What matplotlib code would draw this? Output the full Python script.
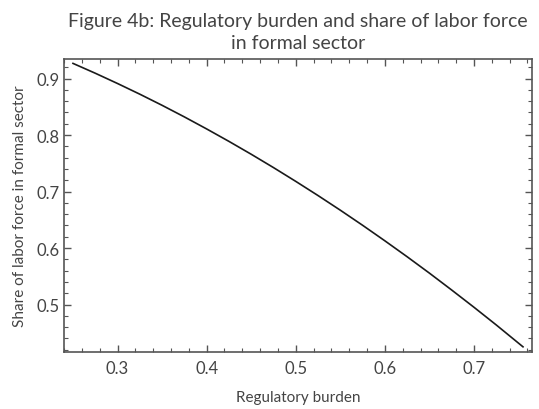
import matplotlib.pyplot as plt
from matplotlib.ticker import MultipleLocator

plt.rcParams['font.family'] = ['Lato', 'DejaVu Sans']

burden = [0.25, 0.275, 0.30, 0.325, 0.35, 0.375, 0.40, 0.425, 0.45, 0.475, 0.50,
          0.525, 0.55, 0.575, 0.60, 0.625, 0.65, 0.675, 0.70, 0.725, 0.755]
share = [0.9268, 0.9094, 0.8912, 0.8723, 0.8526, 0.8321, 0.8108, 0.7888, 0.7660, 0.7424, 0.7180,
         0.6929, 0.6670, 0.6403, 0.6128, 0.5846, 0.5556, 0.5257, 0.4952, 0.4639, 0.4252]

text_col = '#444444'
frame_col = '#555555'

fig = plt.figure(figsize=(5.39, 4.10), dpi=100)
ax = fig.add_axes([0.1187, 0.1398, 0.8683, 0.7139])

ax.plot(burden, share, color='#1a1a1a', lw=1.2)

ax.set_xlim(0.2399, 0.7651)
ax.set_ylim(0.4166, 0.9346)
ax.xaxis.set_major_locator(MultipleLocator(0.1))
ax.xaxis.set_minor_locator(MultipleLocator(0.02))
ax.yaxis.set_major_locator(MultipleLocator(0.1))
ax.yaxis.set_minor_locator(MultipleLocator(0.02))
ax.xaxis.set_major_formatter(lambda v, p: f'{v:.1f}')
ax.yaxis.set_major_formatter(lambda v, p: f'{v:.1f}')

ax.tick_params(which='both', direction='in', top=True, right=True,
               colors=frame_col, labelcolor=text_col, labelsize=12)
ax.tick_params(which='major', length=5, width=1.0)
ax.tick_params(axis='x', which='major', pad=6)
ax.tick_params(axis='y', which='major', pad=3)
ax.tick_params(which='minor', length=3, width=0.8)
for s in ax.spines.values():
    s.set_color(frame_col)
    s.set_linewidth(1.2)

ax.set_title('Figure 4b: Regulatory burden and share of labor force\nin formal sector',
             fontsize=14, color=text_col, pad=8, linespacing=1.35)
ax.set_xlabel('Regulatory burden', fontsize=11, color=text_col, labelpad=10)
ax.set_ylabel('Share of labor force in formal sector', fontsize=11, color=text_col, labelpad=7)

fig.savefig('out.png', dpi=100)
